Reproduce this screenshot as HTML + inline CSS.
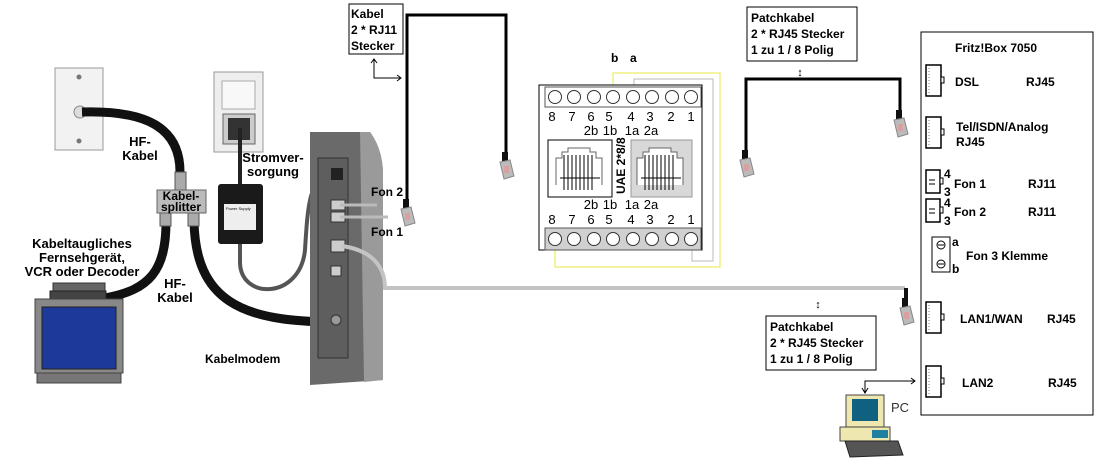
<!DOCTYPE html>
<html><head><meta charset="utf-8"><style>
html,body{margin:0;padding:0;background:#fff;}
svg{display:block;font-family:"Liberation Sans",sans-serif;}
.b{font-weight:bold;font-size:12px;fill:#000;}
.n{font-size:12px;fill:#000;}
</style></head><body>
<svg width="1115" height="473" viewBox="0 0 1115 473" xmlns="http://www.w3.org/2000/svg">
<defs>
<g id="rj">
<rect x="-4" y="-16" width="6" height="10" fill="#111"/>
<path d="M-6,-6 L4,-8 L8,8 L-2,11 Z" fill="#bbb" stroke="#888" stroke-width="1"/>
<rect x="-2" y="-2" width="5" height="7" fill="#d9a0a0"/>
</g>
<g id="port">
<rect x="0" y="0" width="15" height="31" fill="#fff" stroke="#000" stroke-width="1.5"/>
<rect x="15" y="12" width="3" height="6" fill="#fff" stroke="#000"/>
<line x1="3" y1="3" x2="3" y2="28" stroke="#777" stroke-dasharray="1,2"/>
</g>
<g id="port2">
<rect x="0" y="0" width="14" height="23" fill="#fff" stroke="#000" stroke-width="1.5"/>
<rect x="14" y="8" width="3" height="6" fill="#fff" stroke="#000"/>
<line x1="3" y1="10" x2="9" y2="10" stroke="#000"/>
<line x1="3" y1="14" x2="9" y2="14" stroke="#000"/>
</g>
</defs>

<!-- Wall coax plate -->
<rect x="55" y="68" width="48" height="82" fill="#f2f2f2" stroke="#999"/>
<circle cx="79" cy="77" r="2.5" fill="#777"/>
<circle cx="79" cy="141" r="2.5" fill="#777"/>
<circle cx="80" cy="112" r="6" fill="#ddd" stroke="#888"/>
<path d="M82,112 C150,110 180,130 180,172" fill="none" stroke="#111" stroke-width="9"/>
<path d="M166,222 C166,270 150,290 105,298" fill="none" stroke="#111" stroke-width="9"/>
<path d="M194,222 C196,300 240,322 335,322" fill="none" stroke="#111" stroke-width="9"/>
<rect x="175" y="172" width="11" height="18" fill="#aaa" stroke="#555"/>
<rect x="160" y="212" width="11" height="14" fill="#aaa" stroke="#555"/>
<rect x="188" y="212" width="11" height="14" fill="#aaa" stroke="#555"/>
<rect x="157" y="190" width="49" height="23" fill="#bbb" stroke="#666"/>
<text class="b" x="181" y="200" text-anchor="middle" font-size="11">Kabel-</text>
<text class="b" x="181" y="211" text-anchor="middle" font-size="11">splitter</text>
<text x="140" y="146" text-anchor="middle" font-size="13" font-weight="bold">HF-</text>
<text x="140" y="160" text-anchor="middle" font-size="13" font-weight="bold">Kabel</text>
<text x="175" y="288" text-anchor="middle" font-size="13" font-weight="bold">HF-</text>
<text x="175" y="302" text-anchor="middle" font-size="13" font-weight="bold">Kabel</text>
<text x="82" y="248" text-anchor="middle" font-size="13" font-weight="bold">Kabeltaugliches</text>
<text x="82" y="262" text-anchor="middle" font-size="13" font-weight="bold">Fernsehgerät,</text>
<text x="82" y="276" text-anchor="middle" font-size="13" font-weight="bold">VCR oder Decoder</text>
<!-- TV -->
<rect x="53" y="283" width="52" height="8" fill="#666" stroke="#333"/>
<rect x="50" y="291" width="56" height="8" fill="#444" stroke="#222"/>
<rect x="35" y="299" width="88" height="74" fill="#888" stroke="#444"/>
<rect x="42" y="307" width="74" height="62" fill="#1d3a9a" stroke="#222"/>
<rect x="37" y="373" width="84" height="10" fill="#777" stroke="#444"/>
<!-- Power outlet -->
<rect x="214" y="72" width="49" height="80" fill="#eee" stroke="#999"/>
<rect x="222" y="81" width="33" height="28" fill="#f8f8f8" stroke="#aaa"/>
<rect x="223" y="114" width="32" height="30" fill="#ccc" stroke="#666"/>
<rect x="228" y="118" width="22" height="22" fill="#333"/>
<path d="M240,128 L240,185" stroke="#222" stroke-width="4"/>
<rect x="218" y="184" width="45" height="60" rx="3" fill="#1a1a1a"/>
<rect x="224" y="204" width="32" height="26" fill="#eee"/>
<text x="226" y="210" font-size="4">Power Supply</text>
<path d="M240,244 L240,262 C240,300 300,300 305,250 C308,200 310,180 330,176" fill="none" stroke="#555" stroke-width="4"/>
<text x="273" y="162" text-anchor="middle" font-size="13" font-weight="bold">Stromver-</text>
<text x="273" y="176" text-anchor="middle" font-size="13" font-weight="bold">sorgung</text>
<!-- Modem -->
<path d="M310,132 L370,132 Q383,150 383,175 L383,380 L310,385 Z" fill="#6a6a6a"/>
<path d="M360,132 L370,132 Q383,150 383,175 L383,380 L364,382 Z" fill="#9a9a9a"/>
<rect x="318" y="158" width="30" height="200" fill="#5e5e5e" stroke="#333"/>
<rect x="331" y="168" width="12" height="12" fill="#222"/>
<rect x="331" y="200" width="14" height="10" fill="#ccc" stroke="#333"/>
<rect x="331" y="212" width="14" height="10" fill="#ccc" stroke="#333"/>
<rect x="331" y="240" width="14" height="12" fill="#ccc" stroke="#333"/>
<rect x="331" y="266" width="10" height="10" fill="#ccc" stroke="#333"/>
<circle cx="336" cy="320" r="5" fill="#999" stroke="#333"/>
<text class="b" x="205" y="363" font-size="13">Kabelmodem</text>
<path d="M340,205 L377,205" stroke="#bbb" stroke-width="3"/>
<path d="M340,217 L388,217" stroke="#bbb" stroke-width="3"/>
<path d="M342,246 C370,250 385,265 385,288 L905,288" fill="none" stroke="#c4c4c4" stroke-width="4"/>
<path d="M906,288 L906,300" stroke="#111" stroke-width="4"/>
<use href="#rj" x="906" y="314"/>
<text class="b" x="371" y="196">Fon 2</text>
<text class="b" x="371" y="236">Fon 1</text>
<!-- RJ11 cable -->
<path d="M407,200 L407,15 L506,15 L506,152" fill="none" stroke="#000" stroke-width="3"/>
<use href="#rj" x="407" y="215"/>
<use href="#rj" x="506" y="168"/>
<rect x="349" y="4" width="54" height="50" fill="#fff" stroke="#000"/>
<text class="b" x="351" y="18" font-size="13">Kabel</text>
<text class="b" x="351" y="34" font-size="13">2 * RJ11</text>
<text class="b" x="351" y="50" font-size="13">Stecker</text>
<path d="M374,60 L374,78 L400,78" fill="none" stroke="#000"/>
<path d="M371,63 L374,59 L377,63 M397,75 L401,78 L397,81" fill="none" stroke="#000"/>
<!-- UAE -->
<text class="b" x="611" y="62" font-size="13">b</text>
<text class="b" x="630" y="62" font-size="13">a</text>
<path d="M613,85 L613,73 L720,73 L720,267 L555,267 L555,250" fill="none" stroke="#e8e840" stroke-width="1"/>
<path d="M634,85 L634,79 L713,79 L713,261 L692,261 L692,250" fill="none" stroke="#bbb" stroke-width="1"/>
<rect x="539" y="85" width="163" height="165" fill="#fff" stroke="#000"/>
<rect x="545" y="87" width="156" height="20" fill="#fff" stroke="#555"/>
<rect x="545" y="228" width="156" height="22" fill="#d0d0d0" stroke="#555"/>
<g fill="#fff" stroke="#333">
<circle cx="555" cy="97" r="6.5"/><circle cx="574" cy="97" r="6.5"/><circle cx="594" cy="97" r="6.5"/><circle cx="613" cy="97" r="6.5"/><circle cx="633" cy="97" r="6.5"/><circle cx="652" cy="97" r="6.5"/><circle cx="672" cy="97" r="6.5"/><circle cx="691" cy="97" r="6.5"/>
<circle cx="555" cy="239" r="6.5"/><circle cx="574" cy="239" r="6.5"/><circle cx="594" cy="239" r="6.5"/><circle cx="613" cy="239" r="6.5"/><circle cx="633" cy="239" r="6.5"/><circle cx="652" cy="239" r="6.5"/><circle cx="672" cy="239" r="6.5"/><circle cx="691" cy="239" r="6.5"/>
</g>
<g font-size="13" text-anchor="middle" fill="#000">
<text x="552" y="121">8</text><text x="572" y="121">7</text><text x="591" y="121">6</text><text x="609" y="121">5</text><text x="631" y="121">4</text><text x="650" y="121">3</text><text x="671" y="121">2</text><text x="691" y="121">1</text>
<text x="591" y="135">2b</text><text x="610" y="135">1b</text><text x="632" y="135">1a</text><text x="651" y="135">2a</text>
<text x="591" y="209">2b</text><text x="610" y="209">1b</text><text x="632" y="209">1a</text><text x="651" y="209">2a</text>
<text x="552" y="224">8</text><text x="572" y="224">7</text><text x="591" y="224">6</text><text x="609" y="224">5</text><text x="631" y="224">4</text><text x="650" y="224">3</text><text x="671" y="224">2</text><text x="691" y="224">1</text>
</g>
<rect x="548" y="140" width="64" height="57" fill="#fff" stroke="#000"/>
<rect x="631" y="140" width="61" height="57" fill="#d8d8d8" stroke="#999"/>
<path d="M556,185 L556,158 L562,158 L562,152 L568,152 L568,148 L590,148 L590,152 L596,152 L596,158 L602,158 L602,185" fill="#fff" stroke="#666"/>
<path d="M637,185 L637,158 L643,158 L643,152 L649,152 L649,148 L671,148 L671,152 L677,152 L677,158 L683,158 L683,185" fill="#fff" stroke="#666"/>
<g stroke="#000" stroke-width="1">
<path d="M564,155V190M568,155V190M572,155V190M576,155V190M580,155V190M584,155V190M588,155V190M592,155V190M560,178H600"/>
<path d="M645,155V190M649,155V190M653,155V190M657,155V190M661,155V190M665,155V190M669,155V190M673,155V190M641,178H681"/>
</g>
<text class="b" transform="translate(625,194) rotate(-90)" font-size="11">UAE 2*8/8</text>
<!-- Top patch cable -->
<path d="M746,152 L746,79 L900,79 L900,110" fill="none" stroke="#000" stroke-width="3"/>
<use href="#rj" x="746" y="166"/>
<use href="#rj" x="900" y="126"/>
<rect x="747" y="7" width="110" height="54" fill="#fff" stroke="#000"/>
<text class="b" x="751" y="22">Patchkabel</text>
<text class="b" x="751" y="38">2 * RJ45 Stecker</text>
<text class="b" x="751" y="54">1 zu 1 / 8 Polig</text>
<text x="800" y="76" font-size="11" text-anchor="middle">↕</text>
<!-- bottom patch -->
<text x="818" y="308" font-size="11" text-anchor="middle">↕</text>
<rect x="766" y="316" width="110" height="54" fill="#fff" stroke="#000"/>
<text class="b" x="770" y="331">Patchkabel</text>
<text class="b" x="770" y="347">2 * RJ45 Stecker</text>
<text class="b" x="770" y="363">1 zu 1 / 8 Polig</text>
<!-- PC -->
<path d="M865,392 L865,381 L915,381" fill="none" stroke="#000"/>
<path d="M862,388 L865,393 L868,388 M911,378 L915,381 L911,384" fill="none" stroke="#000"/>
<rect x="846" y="395" width="38" height="32" fill="#eee8b0" stroke="#444"/>
<rect x="852" y="399" width="26" height="22" fill="#106080"/>
<rect x="840" y="427" width="50" height="14" fill="#eee8b0" stroke="#444"/>
<rect x="872" y="430" width="16" height="8" fill="#2080a0"/>
<path d="M845,441 L898,441 L903,455 L850,457 Z" fill="#555" stroke="#222"/>
<text x="891" y="412" font-size="13" fill="#333">PC</text>
<!-- Fritz box -->
<rect x="921" y="32" width="172" height="383" fill="#fff" stroke="#000"/>
<text class="b" x="955" y="52">Fritz!Box 7050</text>
<use href="#port" x="926" y="65"/>
<text class="b" x="955" y="86">DSL</text><text class="b" x="1026" y="86">RJ45</text>
<use href="#port" x="926" y="117"/>
<text class="b" x="956" y="131">Tel/ISDN/Analog</text><text class="b" x="956" y="146">RJ45</text>
<use href="#port2" x="926" y="170"/>
<text class="b" x="944" y="178" font-size="11">4</text><text class="b" x="944" y="196" font-size="11">3</text>
<text class="b" x="954" y="188">Fon 1</text><text class="b" x="1028" y="188">RJ11</text>
<use href="#port2" x="926" y="199"/>
<text class="b" x="944" y="207" font-size="11">4</text><text class="b" x="944" y="225" font-size="11">3</text>
<text class="b" x="954" y="216">Fon 2</text><text class="b" x="1028" y="216">RJ11</text>
<rect x="932" y="237" width="18" height="35" fill="#fff" stroke="#000"/>
<circle cx="941" cy="245" r="4" fill="#fff" stroke="#000"/><line x1="938" y1="245" x2="944" y2="245" stroke="#000"/>
<circle cx="941" cy="264" r="4" fill="#fff" stroke="#000"/><line x1="938" y1="264" x2="944" y2="264" stroke="#000"/>
<text class="b" x="952" y="246">a</text><text class="b" x="952" y="273">b</text>
<text class="b" x="966" y="260">Fon 3  Klemme</text>
<use href="#port" x="926" y="302"/>
<text class="b" x="960" y="323">LAN1/WAN</text><text class="b" x="1047" y="323">RJ45</text>
<use href="#port" x="926" y="366"/>
<text class="b" x="962" y="387">LAN2</text><text class="b" x="1048" y="387">RJ45</text>
</svg>
</body></html>
